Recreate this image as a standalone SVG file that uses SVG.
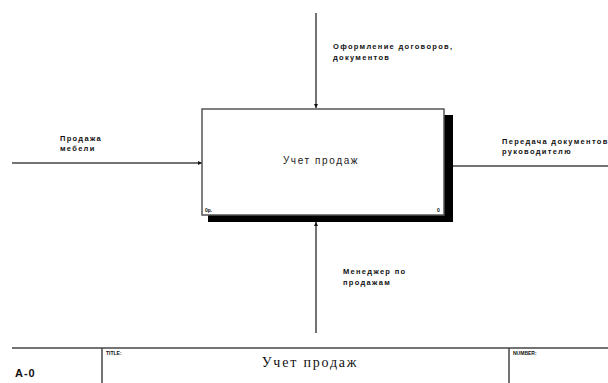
<svg xmlns="http://www.w3.org/2000/svg" width="608" height="383" viewBox="0 0 608 383">
<style>
.lbl{font-family:"Liberation Sans",Arial,sans-serif;font-size:7.5px;font-weight:bold;fill:#111;letter-spacing:1.3px}
.ln{stroke:#444;stroke-width:1.5;fill:none}
.sm{font-family:"Liberation Sans",Arial,sans-serif;font-size:5px;font-weight:bold;fill:#111}
</style>
<defs>
<marker id="ah" viewBox="0 0 6 6" refX="6" refY="3" markerWidth="4" markerHeight="4" orient="auto" markerUnits="userSpaceOnUse">
<path d="M0,0 L6,3 L0,6 z" fill="#111"/>
</marker>
</defs>
<rect width="608" height="383" fill="#fff"/>
<g id="connectors">
<line class="ln" x1="316" y1="13" x2="316" y2="108" marker-end="url(#ah)"/>
<line class="ln" x1="12" y1="163" x2="202" y2="163" marker-end="url(#ah)"/>
<line class="ln" x1="452" y1="166" x2="608" y2="166"/>
<line class="ln" x1="316" y1="333" x2="316" y2="222" marker-end="url(#ah)"/>
</g>
<g id="node-a0">
<rect x="208" y="115" width="245" height="107" fill="#000"/>
<rect x="202" y="109" width="242" height="106" fill="#fff" stroke="#555" stroke-width="1.5"/>
<text x="321" y="164" font-family="'Liberation Sans',Arial,sans-serif" font-size="10" letter-spacing="1.6" fill="#222" text-anchor="middle">Учет продаж</text>
<text x="205" y="212" class="sm">0р.</text>
<text x="437" y="212" class="sm">0</text>
</g>
<g id="labels">
<text class="lbl" x="333" y="49">Оформление договоров,</text>
<text class="lbl" x="333" y="60">документов</text>
<text class="lbl" x="60" y="141">Продажа</text>
<text class="lbl" x="60" y="151">мебели</text>
<text class="lbl" x="502" y="144">Передача документов</text>
<text class="lbl" x="502" y="154">руководителю</text>
<text class="lbl" x="343" y="274">Менеджер по</text>
<text class="lbl" x="343" y="285">продажам</text>
</g>
<g id="frame">
<line x1="12" y1="348" x2="608" y2="348" stroke="#444" stroke-width="1.5"/>
<line x1="102" y1="348" x2="102" y2="383" stroke="#444" stroke-width="1.5"/>
<line x1="509" y1="348" x2="509" y2="383" stroke="#444" stroke-width="1.5"/>
<text x="15" y="377" font-family="'Liberation Sans',Arial,sans-serif" font-size="11" font-weight="bold" letter-spacing="1" fill="#111">A-0</text>
<text x="106" y="355" class="sm">TITLE:</text>
<text x="513" y="355" class="sm">NUMBER:</text>
<text x="310" y="367" font-family="'Liberation Serif','Times New Roman',serif" font-size="14" letter-spacing="1.8" fill="#111" text-anchor="middle">Учет продаж</text>
</g>
</svg>
